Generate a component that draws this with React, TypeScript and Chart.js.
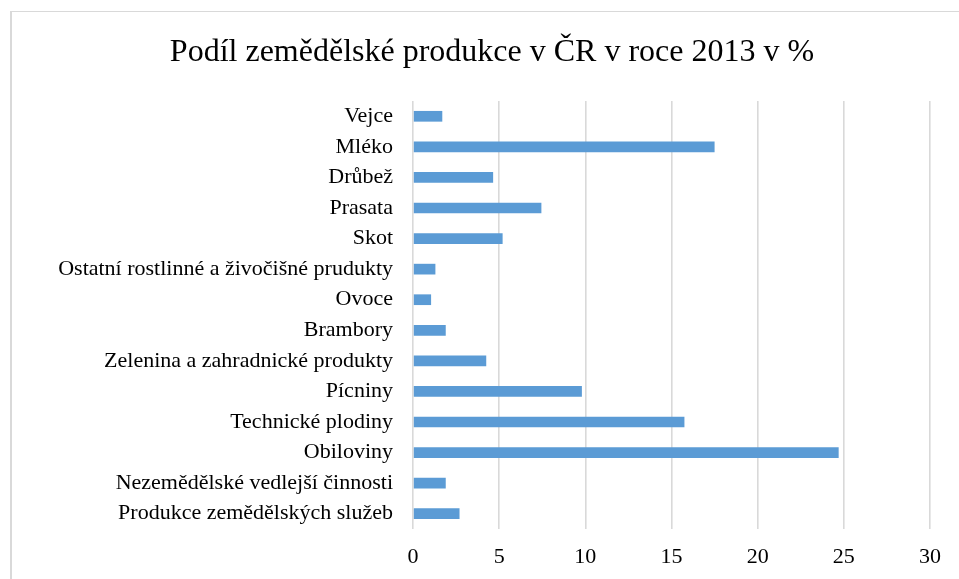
import React, { useEffect, useRef } from "react";
import { Chart, registerables } from "chart.js";

Chart.register(...registerables);

const TITLE = "Podíl zemědělské produkce v ČR v roce 2013 v %";

const CATEGORIES = [
  "Vejce",
  "Mléko",
  "Drůbež",
  "Prasata",
  "Skot",
  "Ostatní rostlinné a živočišné prudukty",
  "Ovoce",
  "Brambory",
  "Zelenina a zahradnické produkty",
  "Pícniny",
  "Technické plodiny",
  "Obiloviny",
  "Nezemědělské vedlejší činnosti",
  "Produkce zemědělských služeb",
];

const VALUES = [1.7, 17.5, 4.65, 7.45, 5.2, 1.3, 1.05, 1.9, 4.25, 9.8, 15.75, 24.7, 1.9, 2.7];

const X_MIN = 0;
const X_MAX = 30;
const X_STEP = 5;

const FONT_FAMILY = "'Liberation Serif', 'Times New Roman', serif";

export default function App() {
  const ref = useRef<HTMLCanvasElement>(null);

  useEffect(() => {
    if (!ref.current) return;
    const chart = new Chart(ref.current, {
      type: "bar",
      data: {
        labels: CATEGORIES,
        datasets: [
          {
            data: VALUES,
            backgroundColor: "#5B9BD5",
            borderWidth: 0,
            categoryPercentage: 1,
            barPercentage: 0.35,
          },
        ],
      },
      options: {
        indexAxis: "y",
        animation: false,
        responsive: false,
        devicePixelRatio: 1,
        layout: { padding: { left: 54, right: 54, top: 0, bottom: 0 } },
        plugins: {
          legend: { display: false },
          tooltip: { enabled: false },
          title: {
            display: true,
            text: TITLE,
            color: "#000000",
            font: { family: FONT_FAMILY, size: 32, weight: "normal" },
            padding: { top: 33, bottom: 29.6 },
          },
        },
        scales: {
          x: {
            min: X_MIN,
            max: X_MAX,
            ticks: {
              stepSize: X_STEP,
              color: "#000000",
              font: { family: FONT_FAMILY, size: 22 },
              padding: 15,
            },
            grid: { color: "#d9d9d9", lineWidth: 1.6, drawTicks: false },
            border: { display: false },
            afterFit: (s: any) => {
              s.height = 50;
            },
          },
          y: {
            ticks: {
              color: "#000000",
              font: { family: FONT_FAMILY, size: 22 },
              padding: 20,
              autoSkip: false,
            },
            grid: { display: false, drawTicks: false },
            border: { display: false },
            afterFit: (s: any) => {
              s.width = 359;
            },
          },
        },
      },
    });
    return () => chart.destroy();
  }, []);

  return (
    <div
      style={{
        position: "fixed",
        left: 0,
        top: 0,
        width: 959,
        height: 579,
        overflow: "hidden",
        background: "#ffffff",
      }}
    >
      <div
        style={{
          position: "absolute",
          left: 10,
          top: 11,
          width: 1000,
          height: 1000,
          borderLeft: "2px solid #d9d9d9",
          borderTop: "1px solid #d9d9d9",
        }}
      />
      <canvas
        ref={ref}
        width={984}
        height={579}
        style={{ position: "absolute", left: 0, top: 0, display: "block" }}
      />
    </div>
  );
}
